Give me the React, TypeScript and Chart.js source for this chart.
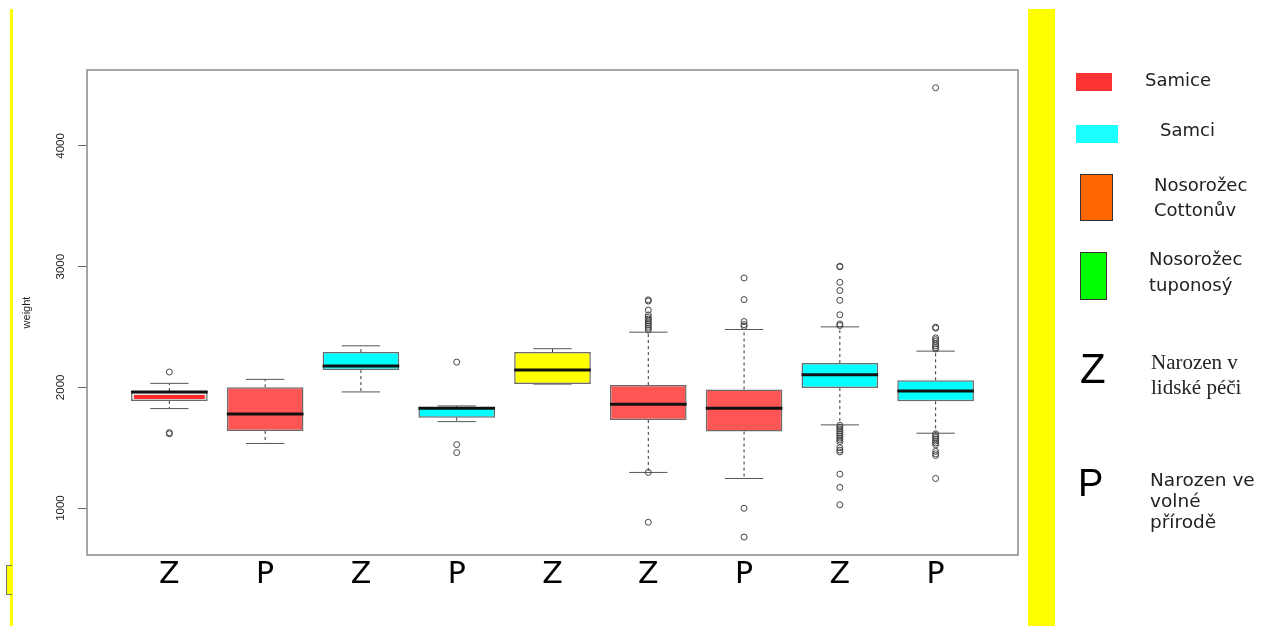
import React, { useEffect, useRef } from 'react';
import { Chart, registerables } from 'chart.js';

Chart.register(...registerables);

// ---------- data ----------
const groupLabels = ['Z', 'P', 'Z', 'P', 'Z', 'Z', 'P', 'Z', 'P'];
const boxColors = ['#e6e6e6', '#ff5555', '#00ffff', '#00ffff', '#ffff00', '#ff5555', '#ff5555', '#00ffff', '#00ffff'];
const q1 = [1887, 1639, 2143, 1749, 2027, 1730, 1634, 1994, 1884];
const q3 = [1969, 2000, 2292, 1835, 2292, 2019, 1983, 2201, 2058];
const medians = [1961, 1780, 2176, 1826, 2143, 1860, 1826, 2105, 1970];
const redBand = [1920, null, null, null, null, null, null, null, null];
const whiskerLow = [1824, 1535, 1962, 1716, 2027, 1295, 1245, 1689, 1620];
const whiskerHigh = [2033, 2066, 2344, 1846, 2320, 2457, 2479, 2501, 2300];
const outliers: number[][] = [
  [2127, 1625, 1615],
  [],
  [],
  [2209, 1526, 1460],
  [],
  [2725, 2715, 2640, 2600, 2580, 2565, 2550, 2535, 2520, 2505, 2490, 2475, 1295, 882],
  [2906, 2727, 2545, 2520, 2505, 998, 760],
  [3003, 2998, 2870, 2802, 2721, 2601, 2525, 2512, 1685, 1670, 1655, 1640, 1625, 1610, 1595, 1580, 1565, 1550, 1500, 1480, 1465, 1281, 1171, 1027],
  [4482, 2498, 2490, 2410, 2395, 2380, 2360, 2345, 2330, 2318, 1615, 1600, 1585, 1570, 1555, 1540, 1525, 1470, 1450, 1435, 1245],
];
const yTicks = [1000, 2000, 3000, 4000];
const yTitle = 'weight';

// ---------- plugin for whiskers, medians, frame, y labels ----------
const boxExtras = {
  id: 'boxExtras',
  beforeDatasetsDraw(chart: any) {
    const { ctx } = chart;
    const y = chart.scales.y;
    const meta = chart.getDatasetMeta(0);
    ctx.save();
    meta.data.forEach((bar: any, i: number) => {
      const cx = bar.x;
      const w = bar.width;
      const yq1 = y.getPixelForValue(q1[i]);
      const yq3 = y.getPixelForValue(q3[i]);
      const ylo = y.getPixelForValue(whiskerLow[i]);
      const yhi = y.getPixelForValue(whiskerHigh[i]);
      ctx.strokeStyle = '#333';
      ctx.lineWidth = 1;
      ctx.setLineDash([3, 3]);
      ctx.beginPath();
      ctx.moveTo(cx, yq3);
      ctx.lineTo(cx, yhi);
      ctx.moveTo(cx, yq1);
      ctx.lineTo(cx, ylo);
      ctx.stroke();
      ctx.setLineDash([]);
      ctx.strokeStyle = '#555';
      ctx.beginPath();
      ctx.moveTo(cx - w / 4, yhi);
      ctx.lineTo(cx + w / 4, yhi);
      ctx.moveTo(cx - w / 4, ylo);
      ctx.lineTo(cx + w / 4, ylo);
      ctx.stroke();
    });
    ctx.restore();
  },
  afterDatasetDraw(chart: any, args: any) {
    if (args.index !== 0) return;
    const { ctx } = chart;
    const y = chart.scales.y;
    const meta = chart.getDatasetMeta(0);
    ctx.save();
    meta.data.forEach((bar: any, i: number) => {
      const cx = bar.x;
      const w = bar.width;
      if (redBand[i] != null) {
        ctx.strokeStyle = '#ff2a2a';
        ctx.lineWidth = 4;
        ctx.beginPath();
        const yr = y.getPixelForValue(redBand[i] as number);
        ctx.moveTo(cx - w / 2 + 3, yr);
        ctx.lineTo(cx + w / 2 - 3, yr);
        ctx.stroke();
      }
      ctx.strokeStyle = '#111';
      ctx.lineWidth = 3;
      const ym = y.getPixelForValue(medians[i]);
      ctx.beginPath();
      ctx.moveTo(cx - w / 2, ym);
      ctx.lineTo(cx + w / 2, ym);
      ctx.stroke();
    });
    ctx.restore();
  },
  afterDraw(chart: any) {
    const { ctx, chartArea } = chart;
    const y = chart.scales.y;
    ctx.save();
    ctx.strokeStyle = '#8a8a8a';
    ctx.lineWidth = 1.5;
    ctx.strokeRect(chartArea.left, chartArea.top, chartArea.right - chartArea.left, chartArea.bottom - chartArea.top);
    ctx.fillStyle = '#222';
    ctx.font = '11.5px "Liberation Sans", Arial, sans-serif';
    ctx.textAlign = 'center';
    ctx.textBaseline = 'middle';
    yTicks.forEach((t) => {
      const py = y.getPixelForValue(t);
      ctx.save();
      ctx.translate(61, py);
      ctx.rotate(-Math.PI / 2);
      ctx.fillText(String(t), 0, 0);
      ctx.restore();
    });
    ctx.restore();
  },
};

function BoxChart() {
  const ref = useRef<HTMLCanvasElement | null>(null);
  useEffect(() => {
    if (!ref.current) return;
    const boxData = groupLabels.map((_, i) => ({ x: i, y: [q1[i], q3[i]] }));
    const outlierData: { x: number; y: number }[] = [];
    outliers.forEach((arr, i) => arr.forEach((v) => outlierData.push({ x: i, y: v })));
    const chart = new Chart(ref.current, {
      type: 'bar',
      data: {
        datasets: [
          {
            type: 'bar',
            data: boxData as any,
            backgroundColor: boxColors,
            borderColor: '#6a6a6a',
            borderWidth: 1.5,
            borderSkipped: false,
            barPercentage: 0.8,
            categoryPercentage: 1,
          } as any,
          {
            type: 'line',
            data: outlierData as any,
            showLine: false,
            pointStyle: 'circle',
            pointRadius: 3,
            pointBackgroundColor: 'rgba(0,0,0,0)',
            pointBorderColor: '#444',
            pointBorderWidth: 1,
          } as any,
        ],
      },
      options: {
        animation: false,
        responsive: true,
        maintainAspectRatio: false,
        layout: { padding: { top: 70, right: 245, bottom: 0, left: 0 } },
        plugins: { legend: { display: false }, tooltip: { enabled: false } },
        scales: {
          x: {
            type: 'linear',
            offset: false,
            min: -0.86,
            max: 8.86,
            grid: { display: false, drawTicks: false, offset: false },
            border: { display: false },
            afterBuildTicks: (scale: any) => {
              scale.ticks = groupLabels.map((_, i) => ({ value: i }));
            },
            afterFit: (scale: any) => {
              scale.height = 71;
            },
            ticks: {
              autoSkip: false,
              maxRotation: 0,
              padding: 2,
              color: '#000',
              font: { family: '"DejaVu Sans", sans-serif', size: 30 },
              callback: (v: any) => groupLabels[v as number] ?? '',
            },
          },
          y: {
            type: 'linear',
            min: 611,
            max: 4629,
            border: { display: false },
            grid: { display: true, drawOnChartArea: false, drawTicks: true, tickLength: 9, color: '#666', lineWidth: 1 },
            afterBuildTicks: (scale: any) => {
              scale.ticks = yTicks.map((v) => ({ value: v }));
            },
            afterFit: (scale: any) => {
              scale.width = 87;
            },
            ticks: { display: false },
            title: {
              display: true,
              text: yTitle,
              color: '#222',
              font: { family: '"Liberation Sans", Arial, sans-serif', size: 11 },
              padding: { top: 20, bottom: 0 },
            },
          },
        },
      } as any,
      plugins: [boxExtras],
    });
    return () => chart.destroy();
  }, []);
  return <canvas ref={ref} />;
}

const sans = '"DejaVu Sans", Verdana, sans-serif';
const abs = (s: React.CSSProperties): React.CSSProperties => ({ position: 'absolute', ...s });

export default function App() {
  return (
    <div style={{ position: 'fixed', left: 0, top: 0, width: 1263, height: 626, background: '#fff', overflow: 'hidden' }}>
      <div style={abs({ left: 0, top: 0, width: 1263, height: 626 })}>
        <BoxChart />
      </div>
      {/* yellow decorations */}
      <div style={abs({ left: 10, top: 9, width: 3, height: 617, background: '#ffff00' })} />
      <div style={abs({ left: 6, top: 565, width: 5, height: 28, background: '#ffff00', borderLeft: '1px solid #777', borderTop: '1px solid #777', borderBottom: '1px solid #777' })} />
      <div style={abs({ left: 1028, top: 9, width: 27, height: 617, background: '#ffff00' })} />
      {/* legend */}
      <div style={abs({ left: 1076, top: 73, width: 36, height: 18, background: '#ff3333' })} />
      <div style={abs({ left: 1145, top: 68, fontFamily: sans, fontSize: 18, lineHeight: '24px', color: '#222' })}>Samice</div>
      <div style={abs({ left: 1076, top: 125, width: 42, height: 18, background: '#1affff' })} />
      <div style={abs({ left: 1160, top: 118, fontFamily: sans, fontSize: 18, lineHeight: '24px', color: '#222' })}>Samci</div>
      <div style={abs({ left: 1080, top: 174, width: 31, height: 45, background: '#ff6600', border: '1px solid #333' })} />
      <div style={abs({ left: 1154, top: 172, fontFamily: sans, fontSize: 18, lineHeight: '25px', color: '#222' })}>Nosorožec<br />Cottonův</div>
      <div style={abs({ left: 1080, top: 252, width: 25, height: 46, background: '#00ff00', border: '1px solid #333' })} />
      <div style={abs({ left: 1149, top: 246, fontFamily: sans, fontSize: 18, lineHeight: '26px', color: '#222' })}>Nosorožec<br />tuponosý</div>
      <div style={abs({ left: 1080, top: 344, fontFamily: '"Liberation Sans", Arial, sans-serif', fontSize: 42, lineHeight: '50px', color: '#000' })}>Z</div>
      <div style={abs({ left: 1151, top: 350, fontFamily: '"Liberation Serif", "Times New Roman", serif', fontSize: 21, lineHeight: '25px', color: '#222' })}>Narozen v<br />lidské péči</div>
      <div style={abs({ left: 1078, top: 460, fontFamily: '"Liberation Sans", Arial, sans-serif', fontSize: 38, lineHeight: '46px', color: '#000' })}>P</div>
      <div style={abs({ left: 1150, top: 469, fontFamily: sans, fontSize: 18.5, lineHeight: '21px', color: '#222' })}>Narozen ve<br />volné<br />přírodě</div>
    </div>
  );
}
